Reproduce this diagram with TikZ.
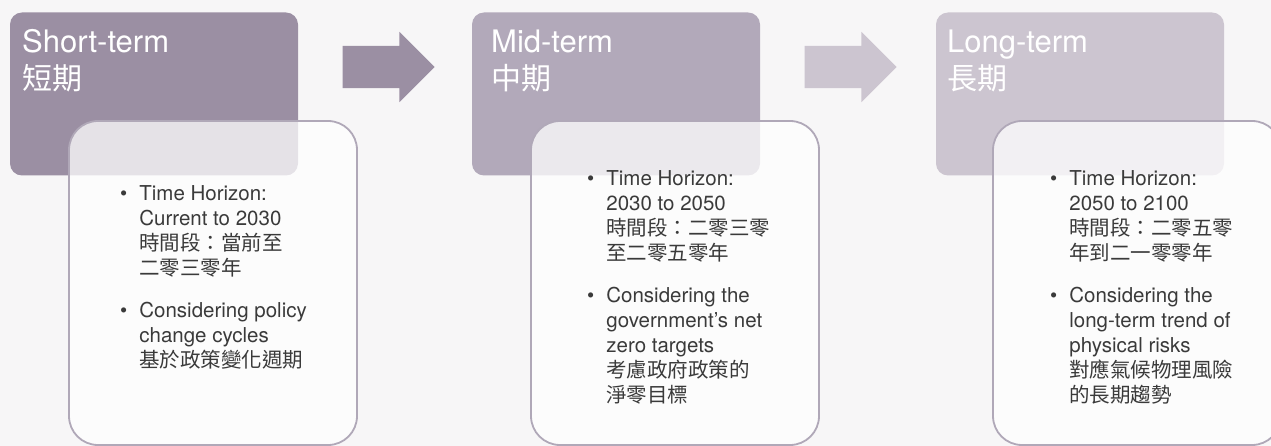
\documentclass[tikz,border=0pt]{standalone}
\usepackage{fontspec}
\setmainfont{TeX Gyre Heros}
\newfontfamily\cjk{Noto Sans CJK TC}
\usetikzlibrary{shapes.arrows}

\definecolor{bgcol}{HTML}{F7F6F7}
\definecolor{shortcol}{HTML}{9B8FA3}
\definecolor{midcol}{HTML}{B2A9BA}
\definecolor{longcol}{HTML}{CCC5D0}
\definecolor{framecol}{HTML}{B0A8B8}
\definecolor{textcol}{HTML}{3A3A3A}

\tikzset{
  hdrbox/.style={rounded corners=12pt, minimum width=288pt, minimum height=163pt, inner sep=0pt},
  bodybox/.style={draw=framecol, line width=1.8pt, fill=white, fill opacity=0.75,
    rounded corners=29pt, minimum width=288pt, minimum height=324pt, inner sep=0pt},
  stagearrow/.style={shape=single arrow, single arrow head extend=14pt, inner xsep=0pt,
    inner ysep=21pt, minimum height=92pt},
  hdrtitle/.style={text=white, anchor=base west, inner sep=0pt, font=\fontsize{31}{38}\selectfont},
  hdrsub/.style={text=white, anchor=base west, inner sep=0pt, font=\cjk\fontsize{30}{38}\selectfont},
  bodytext/.style={text=textcol, anchor=north west, inner sep=0pt, font=\fontsize{20.5}{25}\selectfont},
}

\begin{document}
\begin{tikzpicture}[x=1pt, y=-1pt]
    % Page and background
    \useasboundingbox (0,0) rectangle (1271,446);
    \fill[bgcol] (0,0) rectangle (1271,446);

    % Stage headers
    \node[hdrbox, fill=shortcol] (hdrshort) at (154,94) {};
    \node[hdrbox, fill=midcol] (hdrmid) at (616,94) {};
    \node[hdrbox, fill=longcol] (hdrlong) at (1080,94) {};

    \node[hdrtitle] (tshort) at (22,53) {Short-term};
    \node[hdrsub] (sshort) at (22,90) {短期};
    \node[hdrtitle] (tmid) at (491,53) {Mid-term};
    \node[hdrsub] (smid) at (491,90) {中期};
    \node[hdrtitle] (tlong) at (947,53) {Long-term};
    \node[hdrsub] (slong) at (947,90) {長期};

    % Arrows between stages
    \node[stagearrow, fill=shortcol] (arrshort) at (378,67) {};
    \node[stagearrow, fill=longcol] (arrmid) at (840,67) {};

    % Detail boxes
    \node[bodybox] (bshort) at (213,283) {};
    \node[bodybox] (bmid) at (675,283) {};
    \node[bodybox] (blong) at (1137,283) {};

    % Detail text
    \node[bodytext] (dshort) at (120,182.5) {\begin{tabular}{@{}l@{\hspace{12pt}}l@{}}
        \textbullet & Time Horizon:\\
        & Current to 2030\\
        & {\cjk 時間段：當前至}\\
        & {\cjk 二零三零年}\\[17pt]
        \textbullet & Considering policy\\
        & change cycles\\
        & {\cjk 基於政策變化週期}
    \end{tabular}};
    \node[bodytext] (dmid) at (587,167.5) {\begin{tabular}{@{}l@{\hspace{12pt}}l@{}}
        \textbullet & Time Horizon:\\
        & 2030 to 2050\\
        & {\cjk 時間段：二零三零}\\
        & {\cjk 至二零五零年}\\[17pt]
        \textbullet & Considering the\\
        & government’s net\\
        & zero targets\\
        & {\cjk 考慮政府政策的}\\
        & {\cjk 淨零目標}
    \end{tabular}};
    \node[bodytext] (dlong) at (1050,167.5) {\begin{tabular}{@{}l@{\hspace{12pt}}l@{}}
        \textbullet & Time Horizon:\\
        & 2050 to 2100\\
        & {\cjk 時間段：二零五零}\\
        & {\cjk 年到二一零零年}\\[17pt]
        \textbullet & Considering the\\
        & long-term trend of\\
        & physical risks\\
        & {\cjk 對應氣候物理風險}\\
        & {\cjk 的長期趨勢}
    \end{tabular}};
\end{tikzpicture}
\end{document}
